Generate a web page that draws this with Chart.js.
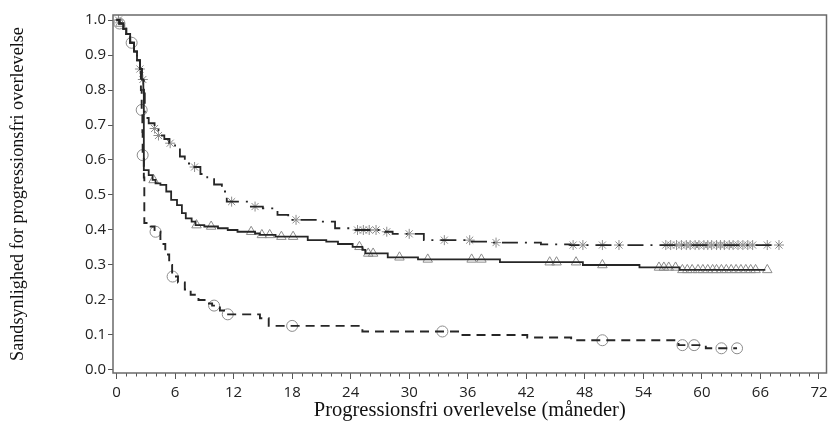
<!DOCTYPE html>
<html><head><meta charset="utf-8">
<script src="https://cdn.jsdelivr.net/npm/chart.js@4.4.1/dist/chart.umd.min.js"></script>
<style>html,body{margin:0;padding:0;background:#fff}#wrap{width:833px;height:434px}</style>
</head><body><div id="wrap"><canvas id="c" width="833" height="434"></canvas></div>
<script>
// Tick labels
const xTicks = [0, 6, 12, 18, 24, 30, 36, 42, 48, 54, 60, 66, 72];
const yTicks = [0, 0.1, 0.2, 0.3, 0.4, 0.5, 0.6, 0.7, 0.8, 0.9, 1.0];
const xMinor = [1,2,3,4,5,7,8,9,10,11,13,14,15,16,17,19,20,21,22,23,25,26,27,28,29,31,32,33,34,35,37,38,39,40,41,43,44,45,46,47,49,50,51,52,53,55,56,57,58,59,61,62,63,64,65,67,68,69,70,71];

// Series A (dash-dot line, asterisk censor marks)
const aTimes = [0, 0.3, 0.7, 1.0, 1.4, 1.8, 2.1, 2.4, 2.6, 2.8, 2.9, 3.3, 3.9, 4.3, 4.9, 5.4, 6.0, 6.5, 7.0, 7.8, 8.6, 9.3, 10.0, 10.8, 11.3, 13.5, 15.0, 16.5, 17.6, 21.0, 22.4, 24.2, 27.5, 28.3, 31.5, 36.4, 38.5, 43.5, 46.5, 67.9];
const aSurv  = [1.0, 0.99, 0.975, 0.96, 0.935, 0.91, 0.885, 0.86, 0.83, 0.79, 0.72, 0.705, 0.69, 0.67, 0.66, 0.648, 0.63, 0.61, 0.59, 0.58, 0.56, 0.545, 0.53, 0.51, 0.481, 0.467, 0.462, 0.443, 0.429, 0.424, 0.405, 0.40, 0.395, 0.389, 0.371, 0.367, 0.364, 0.359, 0.357, 0.357];
const aCensor = [0.2, 2.4, 2.7, 3.9, 4.3, 5.5, 8.0, 11.8, 14.2, 18.4, 24.7, 25.3, 25.9, 26.6, 27.7, 30.0, 33.6, 36.2, 38.9, 46.8, 47.8, 49.8, 51.5, 56.3, 56.8, 57.4, 57.9, 58.4, 58.8, 59.3, 59.7, 60.2, 60.6, 61.0, 61.5, 61.9, 62.3, 62.8, 63.2, 63.7, 64.2, 64.7, 65.2, 66.7, 67.9];

// Series B (solid line, triangle censor marks)
const bTimes = [0, 0.3, 0.7, 1.0, 1.4, 1.8, 2.1, 2.4, 2.6, 2.75, 2.8, 3.3, 3.7, 4.0, 4.5, 5.1, 5.6, 6.2, 6.7, 7.1, 7.7, 8.1, 9.0, 10.4, 11.4, 12.4, 14.2, 14.7, 16.3, 19.6, 21.5, 22.7, 24.2, 25.2, 25.5, 27.8, 30.9, 39.3, 47.8, 53.6, 57.7, 66.5];
const bSurv  = [1.0, 0.99, 0.975, 0.96, 0.935, 0.91, 0.885, 0.86, 0.83, 0.80, 0.571, 0.557, 0.543, 0.533, 0.529, 0.51, 0.486, 0.471, 0.448, 0.433, 0.424, 0.414, 0.41, 0.405, 0.40, 0.395, 0.39, 0.386, 0.381, 0.371, 0.367, 0.36, 0.352, 0.343, 0.333, 0.322, 0.316, 0.308, 0.30, 0.293, 0.286, 0.286];
const bCensor = [0.4, 3.8, 8.2, 9.7, 13.8, 14.9, 15.7, 16.9, 18.1, 24.9, 25.8, 26.3, 29.0, 31.9, 36.4, 37.4, 44.4, 45.1, 47.1, 49.8, 55.6, 56.1, 56.6, 57.3, 58.0, 58.5, 59.0, 59.6, 60.1, 60.6, 61.1, 61.5, 62.0, 62.5, 63.0, 63.5, 64.0, 64.5, 65.0, 65.5, 66.7];

// Series C (dashed line, circle censor marks)
const cTimes = [0, 0.3, 0.7, 1.0, 1.4, 1.8, 2.1, 2.4, 2.5, 2.58, 2.65, 2.68, 2.8, 2.85, 3.5, 3.9, 4.5, 5.0, 5.4, 5.7, 6.3, 7.0, 7.6, 8.4, 9.2, 9.8, 10.6, 11.2, 14.7, 15.6, 25.2, 35.3, 42.1, 46.6, 57.6, 60.4, 63.6];
const cSurv  = [1.0, 0.99, 0.975, 0.96, 0.935, 0.91, 0.885, 0.86, 0.80, 0.743, 0.68, 0.614, 0.55, 0.42, 0.41, 0.395, 0.36, 0.33, 0.30, 0.267, 0.25, 0.23, 0.215, 0.20, 0.19, 0.184, 0.17, 0.159, 0.148, 0.126, 0.11, 0.10, 0.093, 0.085, 0.071, 0.062, 0.062];
const cCensor = [0.3, 1.55, 2.58, 2.68, 4.0, 5.75, 10.0, 11.4, 18.0, 33.4, 49.8, 58.0, 59.2, 62.0, 63.6];

function survAt(times, surv, t) {
  let v = surv[0];
  for (let i = 0; i < times.length; i++) if (times[i] <= t + 1e-9) v = surv[i];
  return v;
}
const curve = (times, surv) => times.map((t, i) => ({x: t, y: surv[i]}));
const marks = (cens, times, surv) => cens.map(t => ({x: t, y: survAt(times, surv, t)}));

const LINE = '#262626';
const MARK = '#8c8c8c';

const minorTicks = {
  id: 'minorTicks',
  afterDraw(chart) {
    const ctx = chart.ctx, xs = chart.scales.x, a = chart.chartArea;
    ctx.save();
    ctx.strokeStyle = '#555';
    ctx.lineWidth = 1;
    ctx.beginPath();
    xMinor.forEach(m => {
      const px = Math.round(xs.getPixelForValue(m)) + 0.5;
      ctx.moveTo(px, a.bottom);
      ctx.lineTo(px, a.bottom + 3.5);
    });
    ctx.stroke();
    // frame
    ctx.strokeStyle = '#6a6a6a';
    ctx.lineWidth = 1.5;
    ctx.strokeRect(a.left, a.top, a.right - a.left, a.bottom - a.top);
    ctx.restore();
  }
};

const tickFont = {family: '"Open Sans", "DejaVu Sans", sans-serif', size: 15};
const xTitleFont = {family: '"Liberation Serif", "Times New Roman", serif', size: 20.5};
const yTitleFont = {family: '"Liberation Serif", "Times New Roman", serif', size: 18.2};

new Chart(document.getElementById('c'), {
  type: 'scatter',
  data: {
    datasets: [
      {data: curve(aTimes, aSurv), showLine: true, stepped: true, borderColor: LINE, borderWidth: 1.8, borderDash: [16, 7, 2, 7], pointRadius: 0, fill: false},
      {data: curve(bTimes, bSurv), showLine: true, stepped: true, borderColor: LINE, borderWidth: 1.8, pointRadius: 0, fill: false},
      {data: curve(cTimes, cSurv), showLine: true, stepped: true, borderColor: LINE, borderWidth: 1.9, borderDash: [9, 6], pointRadius: 0, fill: false},
      {data: marks(aCensor, aTimes, aSurv), showLine: false, pointStyle: 'star', pointRadius: 5, borderColor: MARK, backgroundColor: 'rgba(0,0,0,0)', pointBorderWidth: 1},
      {data: marks(bCensor, bTimes, bSurv), showLine: false, pointStyle: 'triangle', pointRadius: 5.5, borderColor: MARK, backgroundColor: 'rgba(0,0,0,0)', pointBorderWidth: 1},
      {data: marks(cCensor, cTimes, cSurv), showLine: false, pointStyle: 'circle', pointRadius: 5.5, borderColor: MARK, backgroundColor: 'rgba(0,0,0,0)', pointBorderWidth: 1}
    ]
  },
  options: {
    responsive: false,
    animation: false,
    devicePixelRatio: 1,
    layout: {padding: {left: 0, right: 6, top: 15, bottom: 0}},
    plugins: {legend: {display: false}, tooltip: {enabled: false}},
    scales: {
      x: {
        type: 'linear', min: -0.36, max: 72.77,
        afterBuildTicks: s => { s.ticks = xTicks.map(v => ({value: v})); },
        afterFit: s => { s.height = 61; s.paddingLeft = 0; s.paddingRight = 0; },
        grid: {display: true, drawOnChartArea: false, drawTicks: true, tickLength: 6, tickColor: '#555', color: '#555'},
        border: {display: false},
        ticks: {autoSkip: false, maxRotation: 0, padding: 5, color: '#222', font: tickFont, callback: v => String(v)},
        title: {display: true, text: 'Progressionsfri overlevelse (måneder)', color: '#111', font: xTitleFont, padding: {top: 0, bottom: 11}}
      },
      y: {
        type: 'linear', min: -0.0086, max: 1.0143,
        afterBuildTicks: s => { s.ticks = yTicks.map(v => ({value: v})); },
        afterFit: s => { s.width = 113; s.paddingTop = 0; s.paddingBottom = 0; },
        grid: {display: true, drawOnChartArea: false, drawTicks: true, tickLength: 5, tickColor: '#555', color: '#555'},
        border: {display: false},
        ticks: {padding: 2, color: '#222', font: tickFont, callback: v => Number(v).toFixed(1)},
        title: {display: true, text: 'Sandsynlighed for progressionsfri overlevelse', color: '#111', font: yTitleFont, padding: {top: 7, bottom: 0}}
      }
    }
  },
  plugins: [minorTicks]
});
</script>
</body></html>
